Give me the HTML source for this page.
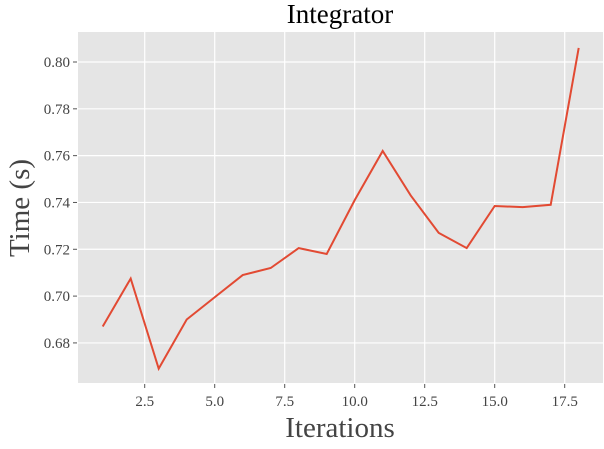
<!DOCTYPE html>
<html><head><meta charset="utf-8"><style>
body{margin:0;background:#fff;width:604px;height:444px;overflow:hidden}
text{font-family:"Liberation Serif",serif;fill:#444}
</style></head><body>
<svg id="chart" width="604" height="444">
<text x="340" y="23" font-size="27" text-anchor="middle" style="fill:#000">Integrator</text>
<rect x="78" y="32" width="525" height="351" fill="#e5e5e5"/>
<g id="grid"></g><g id="ticks"></g>
<polyline id="line" fill="none" stroke="#e24a33" stroke-width="2"/>
<text x="340" y="437" font-size="29" text-anchor="middle">Iterations</text>
<text transform="translate(29,208) rotate(-90)" font-size="29" text-anchor="middle">Time (s)</text>
</svg>
<script>
const iterations=[1,2,3,4,5,6,7,8,9,10,11,12,13,14,15,16,17,18];
const times=[0.687,0.7075,0.669,0.690,0.6995,0.709,0.712,0.7205,0.718,0.741,0.762,0.743,0.727,0.7205,0.7385,0.738,0.739,0.806];
const xTicks=[2.5,5.0,7.5,10.0,12.5,15.0,17.5];
const yTicks=[0.68,0.70,0.72,0.74,0.76,0.78,0.80];
const X=v=>144.7+(v-2.5)*28;
const Y=v=>62+(0.80-v)*2341;
const ns='http://www.w3.org/2000/svg';
const grid=document.getElementById('grid'),ticks=document.getElementById('ticks');
function mk(tag,attrs,parent){const e=document.createElementNS(ns,tag);for(const k in attrs)e.setAttribute(k,attrs[k]);parent.appendChild(e);return e;}
xTicks.forEach(t=>{
  const l=mk('line',{x1:X(t),x2:X(t),y1:32,y2:383,stroke:'#fff','stroke-width':1.2},grid);
  
  
  mk('line',{x1:X(t),x2:X(t),y1:384,y2:388,stroke:'#555'},ticks);
  const tx=mk('text',{x:X(t),y:406,'font-size':15,'text-anchor':'middle'},ticks);
  tx.textContent=t.toFixed(1);
  
  
});
yTicks.forEach(t=>{
  const l=mk('line',{x1:78,x2:603,y1:Y(t),y2:Y(t),stroke:'#fff','stroke-width':1.2},grid);
  
  
  mk('line',{x1:73,x2:77,y1:Y(t),y2:Y(t),stroke:'#555'},ticks);
  const tx=mk('text',{x:70,y:Y(t)+5,'font-size':15,'text-anchor':'end'},ticks);
  tx.textContent=t.toFixed(2);
  
  
});
document.getElementById('line').setAttribute('points',iterations.map((v,i)=>X(v)+','+Y(times[i])).join(' '));
</script>
</body></html>
